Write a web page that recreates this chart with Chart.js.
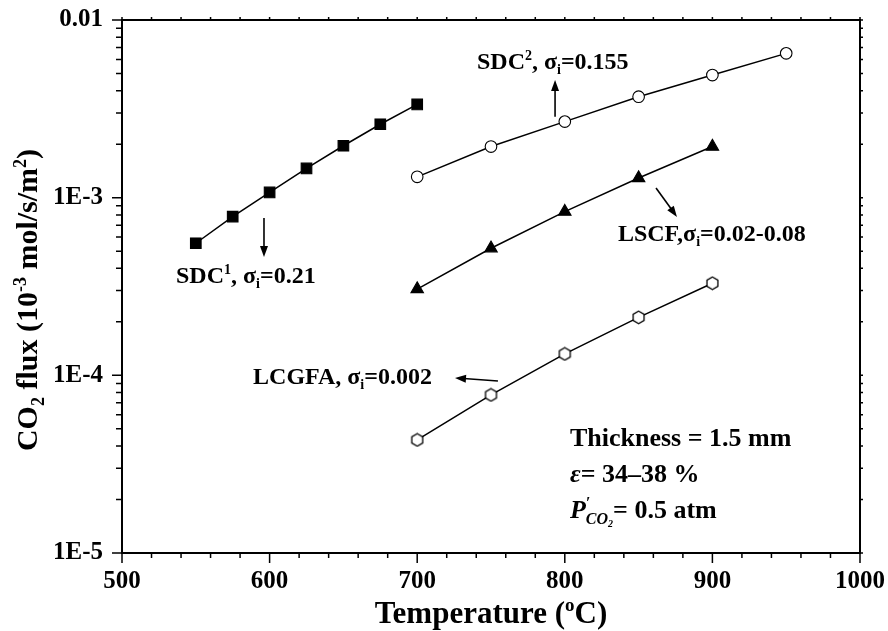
<!DOCTYPE html>
<html lang="en">
<head>
<meta charset="UTF-8">
<title>CO2 flux vs temperature</title>
<script src="https://cdn.jsdelivr.net/npm/chart.js"></script>
<style>
  body { margin: 0; background: #fff; }
  #fluxChart { display: block; }
</style>
</head>
<body>
<canvas id="fluxChart" width="888" height="631"></canvas>
<script>
// values (temperature in C, flux in mol/s/m2 on log axis)
const tempsSdc1 = [550, 575, 600, 625, 650, 675, 700];
const fluxSdc1 = [5.54e-4, 7.82e-4, 1.07e-3, 1.46e-3, 1.96e-3, 2.59e-3, 3.35e-3];
const tempsSdc2 = [700, 750, 800, 850, 900, 950];
const fluxSdc2 = [1.31e-3, 1.94e-3, 2.68e-3, 3.70e-3, 4.90e-3, 6.49e-3];
const tempsLscf = [700, 750, 800, 850, 900];
const fluxLscf = [3.06e-4, 5.19e-4, 8.34e-4, 1.29e-3, 1.94e-3];
const tempsLcgfa = [700, 750, 800, 850, 900];
const fluxLcgfa = [4.33e-5, 7.76e-5, 1.32e-4, 2.12e-4, 3.30e-4];

const xTicks = [500, 600, 700, 800, 900, 1000];
const yTicks = [1e-5, 1e-4, 1e-3, 1e-2];
const yTickLabels = ['1E-5', '1E-4', '1E-3', '0.01'];

const FONT = "'Liberation Serif', 'Times New Roman', serif";

function pts(xs, ys) {
  return xs.map((x, i) => ({ x: x, y: ys[i] }));
}

// open hexagon marker (chart.js has no hexagon point style)
function hexagon() {
  const c = document.createElement('canvas');
  c.width = 15; c.height = 15;
  const g = c.getContext('2d');
  g.beginPath();
  for (let k = 0; k < 6; k++) {
    const a = -Math.PI / 2 + k * Math.PI / 3;
    const px = 7.5 + 6.3 * Math.cos(a), py = 7.5 + 6.3 * Math.sin(a);
    if (k === 0) g.moveTo(px, py); else g.lineTo(px, py);
  }
  g.closePath();
  g.fillStyle = '#fff';
  g.fill();
  g.lineWidth = 1.3;
  g.strokeStyle = '#000';
  g.stroke();
  return c;
}

// parts: [text, mode, italic, noAdvance]
function partFont(p, size) {
  let s = size;
  if (p[1] === 'sup' || p[1] === 'sub') s = size * 0.6;
  if (p[1] === 'subsub') s = size * 0.4;
  return (p[2] ? 'italic ' : '') + 'bold ' + Math.round(s) + 'px ' + FONT;
}

function drawRich(ctx, parts, x, y, size, align) {
  let w = 0;
  parts.forEach(p => {
    ctx.font = partFont(p, size);
    if (!p[3]) w += ctx.measureText(p[0]).width;
  });
  let cx = align === 'center' ? x - w / 2 : x;
  ctx.textAlign = 'left';
  ctx.textBaseline = 'alphabetic';
  parts.forEach(p => {
    ctx.font = partFont(p, size);
    let dy = 0;
    if (p[1] === 'sup') dy = -size * 0.38;
    if (p[1] === 'sub') dy = size * 0.22;
    if (p[1] === 'subsub') dy = size * 0.34;
    ctx.fillText(p[0], cx, y + dy);
    if (!p[3]) cx += ctx.measureText(p[0]).width;
  });
}

function arrow(ctx, x1, y1, x2, y2) {
  const a = Math.atan2(y2 - y1, x2 - x1);
  const hl = 11, hw = 4;
  ctx.beginPath();
  ctx.moveTo(x1, y1);
  ctx.lineTo(x2 - Math.cos(a) * hl * 0.8, y2 - Math.sin(a) * hl * 0.8);
  ctx.lineWidth = 1.6;
  ctx.stroke();
  ctx.beginPath();
  ctx.moveTo(x2, y2);
  ctx.lineTo(x2 - Math.cos(a) * hl - Math.sin(a) * hw, y2 - Math.sin(a) * hl + Math.cos(a) * hw);
  ctx.lineTo(x2 - Math.cos(a) * hl + Math.sin(a) * hw, y2 - Math.sin(a) * hl - Math.cos(a) * hw);
  ctx.closePath();
  ctx.fill();
}

const labels = [
  { t: 536.6, f: 3.31e-4, size: 24, parts: [['SDC'], ['1', 'sup'], [', '], ['σ'], ['i', 'sub'], ['=0.21']] },
  { t: 740.5, f: 5.30e-3, size: 24, parts: [['SDC'], ['2', 'sup'], [', '], ['σ'], ['i', 'sub'], ['=0.155']] },
  { t: 836, f: 5.71e-4, size: 24, parts: [['LSCF,'], ['σ'], ['i', 'sub'], ['=0.02-0.08']] },
  { t: 588.8, f: 8.95e-5, size: 24, parts: [['LCGFA, '], ['σ'], ['i', 'sub'], ['=0.002']] },
  { t: 803.5, f: 4.02e-5, size: 26, parts: [['Thickness = 1.5 mm']] },
  { t: 803.5, f: 2.52e-5, size: 26, parts: [['ε', null, true], ['= 34–38 %']] },
  { t: 803.5, f: 1.57e-5, size: 26, parts: [['P', null, true], ['\u2032', 'sup', true, true], ['CO', 'sub', true], ['2', 'subsub', true], ['= 0.5 atm']] }
];

const arrows = [
  [596.2, 7.69e-4, 596.2, 4.64e-4],
  [793.4, 2.85e-3, 793.4, 4.60e-3],
  [861.8, 1.134e-3, 876, 7.79e-4],
  [754.7, 9.30e-5, 725.6, 9.67e-5]
];

const framePlugin = {
  id: 'frame',
  afterDraw(chart) {
    const ctx = chart.ctx;
    const xs = chart.scales.x, ys = chart.scales.y;
    const a = chart.chartArea;
    ctx.save();
    ctx.strokeStyle = '#000';
    ctx.fillStyle = '#000';

    // top and right frame
    ctx.lineWidth = 2;
    ctx.beginPath();
    ctx.moveTo(a.left, a.top); ctx.lineTo(a.right, a.top); ctx.lineTo(a.right, a.bottom);
    ctx.stroke();

    // tick marks
    ctx.lineWidth = 1.5;
    ctx.beginPath();
    for (let t = 500; t <= 1000; t += 20) {
      const px = xs.getPixelForValue(t);
      const major = t % 100 === 0;
      ctx.moveTo(px, a.bottom); ctx.lineTo(px, a.bottom + (major ? 10 : 5));
      ctx.moveTo(px, a.top); ctx.lineTo(px, a.top - 3);
    }
    for (let e = -5; e <= -2; e++) {
      for (let k = 1; k <= 9; k++) {
        if (e === -2 && k > 1) break;
        const py = ys.getPixelForValue(k * Math.pow(10, e));
        ctx.moveTo(a.left, py); ctx.lineTo(a.left - (k === 1 ? 10 : 6), py);
        ctx.moveTo(a.right, py); ctx.lineTo(a.right + 3, py);
      }
    }
    ctx.stroke();

    // annotations
    labels.forEach(l => {
      drawRich(ctx, l.parts, xs.getPixelForValue(l.t), ys.getPixelForValue(l.f), l.size, 'left');
    });
    arrows.forEach(r => {
      arrow(ctx, xs.getPixelForValue(r[0]), ys.getPixelForValue(r[1]),
                 xs.getPixelForValue(r[2]), ys.getPixelForValue(r[3]));
    });

    // axis titles
    drawRich(ctx, [['Temperature ('], ['o', 'sup'], ['C)']], (a.left + a.right) / 2, 623, 31, 'center');
    ctx.translate(37, 300);
    ctx.rotate(-Math.PI / 2);
    drawRich(ctx, [['CO'], ['2', 'sub'], [' flux (10'], ['-3', 'sup'], [' mol/s/m'], ['2', 'sup'], [')']], 0, 0, 30, 'center');
    ctx.restore();
  }
};

const line = { borderColor: '#000', borderWidth: 1.5, showLine: true, pointBorderColor: '#000', pointBorderWidth: 1.1 };

new Chart(document.getElementById('fluxChart'), {
  type: 'scatter',
  data: {
    datasets: [
      Object.assign({ data: pts(tempsSdc1, fluxSdc1), pointStyle: 'rect', pointRadius: 7.5, pointBackgroundColor: '#000' }, line),
      Object.assign({ data: pts(tempsSdc2, fluxSdc2), pointStyle: 'circle', pointRadius: 5.8, pointBackgroundColor: '#fff' }, line),
      Object.assign({ data: pts(tempsLscf, fluxLscf), pointStyle: 'triangle', pointRadius: 7.2, pointBackgroundColor: '#000' }, line),
      Object.assign({ data: pts(tempsLcgfa, fluxLcgfa), pointStyle: hexagon(), pointBackgroundColor: '#fff' }, line)
    ]
  },
  options: {
    responsive: false,
    animation: false,
    devicePixelRatio: 1,
    layout: { padding: { top: 20, right: 28, left: 0, bottom: 0 } },
    plugins: { legend: { display: false }, tooltip: { enabled: false } },
    scales: {
      x: {
        type: 'linear', min: 500, max: 1000,
        afterBuildTicks: s => { s.ticks = xTicks.map(v => ({ value: v })); },
        afterFit: s => { s.height = 78; s.paddingLeft = 0; s.paddingRight = 0; },
        grid: { display: false, drawTicks: false },
        border: { display: true, color: '#000', width: 2 },
        ticks: { color: '#000', padding: 14, font: { family: FONT, size: 25, weight: 'bold' }, callback: v => String(v) }
      },
      y: {
        type: 'logarithmic', min: 1e-5, max: 1e-2,
        afterBuildTicks: s => { s.ticks = yTicks.map(v => ({ value: v })); },
        afterFit: s => { s.width = 122; s.paddingTop = 0; s.paddingBottom = 0; },
        grid: { display: false, drawTicks: false },
        border: { display: true, color: '#000', width: 2 },
        ticks: {
          color: '#000', padding: 19, autoSkip: false,
          font: { family: FONT, size: 25, weight: 'bold' },
          callback: v => yTickLabels[yTicks.findIndex(t => Math.abs(t - v) / t < 1e-6)]
        }
      }
    }
  },
  plugins: [framePlugin]
});
</script>
</body>
</html>
